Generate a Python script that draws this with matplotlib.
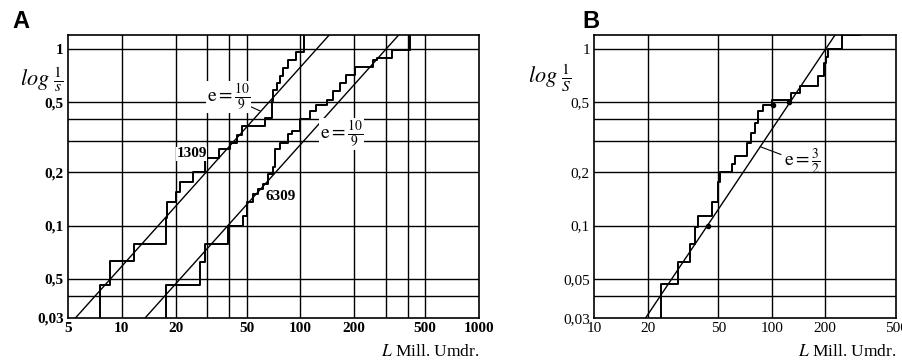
import numpy as np
import matplotlib
matplotlib.use("Agg")
import matplotlib.pyplot as plt

plt.rcParams['font.family'] = ['Liberation Serif', 'DejaVu Serif']
plt.rcParams['mathtext.fontset'] = 'stix'

# ---- panel A data ----
a_xticks = [5, 10, 20, 50, 100, 200, 500, 1000]
a_xlabels = ['5', '10', '20', '50', '100', '200', '500', '1000']
a_xgrid = [10, 20, 30, 40, 50, 100, 200, 300, 400, 500]
a_yticks = [1, 0.5, 0.2, 0.1, 0.05, 0.03]
a_ylabels = ['1', '0,5', '0,2', '0,1', '0,5', '0,03']
ygrid = [0.04, 0.05, 0.1, 0.2, 0.3, 0.4, 0.5, 1]

# empirical steps, sample 1309 (mileage at each failure, log 1/S after it)
s1309_L = [7.56, 8.6, 11.7, 17.6, 17.9, 20.1, 21.2, 25.0, 29.3, 35.1, 40.4,
           43.9, 46.9, 63.5, 69.3, 70.7, 74.3, 77.2, 79.5, 85, 94, 105]
s1309_y = [0.046, 0.063, 0.079, 0.11, 0.136, 0.155, 0.176, 0.2, 0.243, 0.27,
           0.295, 0.324, 0.366, 0.408, 0.506, 0.588, 0.641, 0.699, 0.779,
           0.867, 0.96, 1.4]
# empirical steps, sample 6309
s6309_L = [17.7, 27.4, 29.3, 39.4, 47.7, 50, 54.6, 58.2, 62, 66, 70.5, 72.5,
           77, 85.5, 89.2, 99.6, 113, 123, 141, 153, 166, 181, 202, 256, 270,
           325, 411]
s6309_y = [0.046, 0.0625, 0.079, 0.1, 0.114, 0.136, 0.151, 0.161, 0.172,
           0.196, 0.214, 0.27, 0.295, 0.329, 0.343, 0.399, 0.444, 0.485,
           0.517, 0.575, 0.641, 0.714, 0.795, 0.867, 0.89, 0.99, 1.4]
# fitted straight lines (end points)
fit1309_L = [5.5, 145]
fit1309_y = [0.03, 1.2]
fit6309_L = [13.5, 355]
fit6309_y = [0.03, 1.2]

# ---- panel B data ----
b_xticks = [10, 20, 50, 100, 200, 500]
b_xlabels = ['10', '20', '50', '100', '200', '500']
b_xgrid = [20, 50, 100, 200]
b_ylabels = ['1', '0,5', '0,2', '0,1', '0,05', '0,03']
sB_L = [23.7, 29.8, 34.6, 36.9, 38.6, 45.9, 50.1, 51.1, 59.5, 62.1, 72.5,
        76.9, 80.4, 84, 89.7, 99.7, 129, 144, 183, 197, 202, 208, 248, 312]
sB_y = [0.0466, 0.0625, 0.079, 0.098, 0.114, 0.136, 0.176, 0.2, 0.223,
        0.248, 0.295, 0.336, 0.383, 0.444, 0.485, 0.517, 0.563, 0.614,
        0.699, 0.83, 0.9, 1.0, 1.2, 1.2]
fitB_L = [19.5, 227]
fitB_y = [0.03, 1.2]
dotsB_L = [43.9, 101, 125]
dotsB_y = [0.1, 0.484, 0.5]

fig = plt.figure(figsize=(9.03, 3.63), dpi=100)
axA = fig.add_axes([68 / 903, 1 - 318 / 363, 411 / 903, 283 / 363])
axB = fig.add_axes([594 / 903, 1 - 318 / 363, 302 / 903, 283 / 363])


def setup(ax, xlim, xgrid, xticks, xlabels, ylabels, bold):
    ax.set_xscale('log')
    ax.set_yscale('log')
    ax.set_xlim(*xlim)
    ax.set_ylim(0.03, 1.2)
    for x in xgrid:
        ax.axvline(x, color='black', lw=1.0, zorder=1)
    for y in ygrid:
        ax.axhline(y, color='black', lw=1.0, zorder=1)
    ax.minorticks_off()
    ax.set_xticks(xticks)
    ax.set_xticklabels(xlabels)
    ax.set_yticks(a_yticks)
    ax.set_yticklabels(ylabels)
    w = 'bold' if bold else 'normal'
    ax.tick_params(length=0, pad=3, labelsize=11)
    for t in ax.get_xticklabels() + ax.get_yticklabels():
        t.set_fontweight(w)
    for s in ax.spines.values():
        s.set_linewidth(1.2)
    ax.text(1.0, -0.12, r'$L$ Mill. Umdr.', transform=ax.transAxes,
            ha='right', va='center', fontsize=12.5)


setup(axA, (5, 1000), a_xgrid, a_xticks, a_xlabels, a_ylabels, True)
setup(axB, (10, 500), b_xgrid, b_xticks, b_xlabels, b_ylabels, False)

# panel A curves
axA.step([s1309_L[0]] + s1309_L, [0.03] + s1309_y, where='post',
         color='black', lw=1.4, zorder=3)
axA.step([s6309_L[0]] + s6309_L, [0.03] + s6309_y, where='post',
         color='black', lw=1.4, zorder=3)
axA.plot(fit1309_L, fit1309_y, color='black', lw=1.0, zorder=3)
axA.plot(fit6309_L, fit6309_y, color='black', lw=1.0, zorder=3)

axA.text(20.2, 0.255, '1309', fontsize=11, fontweight='bold',
         ha='left', va='center', zorder=4,
         bbox=dict(fc='white', ec='none', pad=0.3))
axA.text(64, 0.147, '6309', fontsize=11, fontweight='bold',
         ha='left', va='center', zorder=4,
         bbox=dict(fc='white', ec='none', pad=0.3))
axA.annotate(r'$\mathrm{e}=\frac{10}{9}$', xy=(59.5, 0.446),
             xytext=(39.5, 0.537), ha='center', va='center', fontsize=14,
             bbox=dict(fc='white', ec='none', pad=0.5), zorder=4,
             arrowprops=dict(arrowstyle='-', color='black', lw=0.8,
                             shrinkA=0, shrinkB=0))
axA.annotate(r'$\mathrm{e}=\frac{10}{9}$', xy=(129, 0.383),
             xytext=(170, 0.33), ha='center', va='center', fontsize=14,
             bbox=dict(fc='white', ec='none', pad=0.5), zorder=4,
             arrowprops=dict(arrowstyle='-', color='black', lw=0.8,
                             shrinkA=0, shrinkB=0))

# panel B curves
axB.step([sB_L[0]] + sB_L, [0.03] + sB_y, where='post',
         color='black', lw=1.4, zorder=3)
axB.plot(fitB_L, fitB_y, color='black', lw=1.0, zorder=3)
axB.plot(dotsB_L, dotsB_y, 'o', color='black', ms=3, zorder=4)
axB.annotate(r'$\mathrm{e}=\frac{3}{2}$', xy=(86, 0.28),
             xytext=(148, 0.228), ha='center', va='center', fontsize=14,
             arrowprops=dict(arrowstyle='-', color='black', lw=0.8,
                             shrinkA=0, shrinkB=0))

# y-axis titles and panel letters
fig.text(20 / 903, 1 - 80 / 363, r'$log\ \frac{1}{s}$', fontsize=16,
         ha='left', va='center')
fig.text(528 / 903, 1 - 78 / 363, r'$log\ \frac{1}{S}$', fontsize=16,
         ha='left', va='center')
fig.text(12 / 903, 1 - 21 / 363, 'A', fontsize=17, fontweight='bold',
         family='Liberation Sans', ha='left', va='center')
fig.text(582 / 903, 1 - 21 / 363, 'B', fontsize=17, fontweight='bold',
         family='Liberation Sans', ha='left', va='center')

fig.savefig('out.png', dpi=100)
